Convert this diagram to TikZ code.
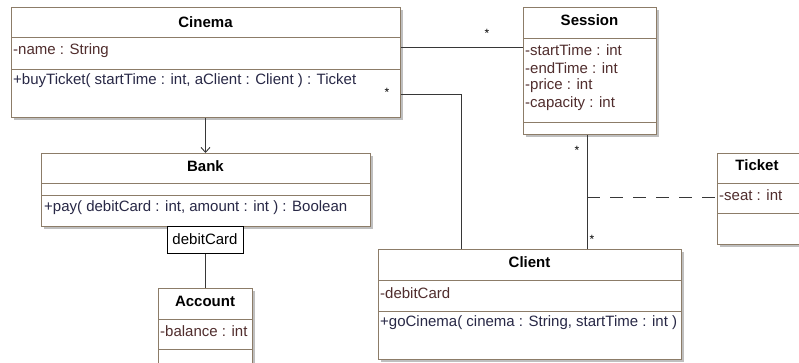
\documentclass[tikz,border=0pt]{standalone}
\usepackage{fontspec}
\setmainfont{Liberation Sans}
\usetikzlibrary{arrows.meta,positioning,calc,shadows}
\definecolor{umlbrd}{RGB}{140,124,104}
\definecolor{umlattr}{RGB}{80,45,45}
\definecolor{umlop}{RGB}{40,40,70}
\definecolor{umlln}{RGB}{55,55,55}
\tikzset{
  cls/.style={draw=umlbrd, fill=white, line width=1pt, anchor=north west, inner sep=0pt,
              drop shadow={shadow xshift=2.5pt, shadow yshift=-2.5pt, fill=black!25, opacity=1}},
  sepln/.style={draw=umlbrd, line width=1pt},
  ctitle/.style={font=\fontsize{15}{17}\selectfont\bfseries, inner sep=0pt},
  cattr/.style={font=\fontsize{15}{17}\selectfont, text=umlattr, anchor=west, inner sep=0pt},
  cop/.style={font=\fontsize{15}{17}\selectfont, text=umlop, anchor=west, inner sep=0pt},
  assoc/.style={umlln, line width=0.9pt},
  depend/.style={umlln, line width=0.9pt, -{Straight Barb[length=5pt,width=9pt]}},
  aclass/.style={umlln, line width=0.9pt, dash pattern=on 13pt off 10pt},
  qbox/.style={draw=black, fill=white, line width=1pt, anchor=north west, inner sep=0pt,
               font=\fontsize{15}{17}\selectfont},
  mult/.style={font=\fontsize{12}{14}\selectfont, inner sep=0pt},
}
\newcommand{\clsep}[2]{\draw[sepln] ([yshift=-#2pt]#1.north west) -- ([yshift=-#2pt]#1.north east);}

\begin{document}
\begin{tikzpicture}[x=1pt, y=-1pt]
  \useasboundingbox (0,0) rectangle (799,362);
  % classes
  \node[cls, minimum width=389pt, minimum height=110pt] (cinema) at (11,7) {};
  \clsep{cinema}{30}\clsep{cinema}{62}
  \node[ctitle] (cinema-t) at (205.5,22) {Cinema};
  \node[cattr] (cinema-a) at (13,51) {-name : String};
  \node[cop] (cinema-o) at (13,81) {+buyTicket( startTime : int, aClient : Client ) : Ticket};

  \node[cls, minimum width=133pt, minimum height=127pt] (session) at (523,7) {};
  \clsep{session}{31}\clsep{session}{115}
  \node[ctitle] (session-t) at (589.5,20) {Session};
  \node[cattr] (session-a1) at (525,50) {-startTime : int};
  \node[cattr] (session-a2) at (525,68) {-endTime : int};
  \node[cattr] (session-a3) at (525,86) {-price : int};
  \node[cattr] (session-a4) at (525,104) {-capacity : int};

  \node[cls, minimum width=329pt, minimum height=73pt] (bank) at (41,153) {};
  \clsep{bank}{30}\clsep{bank}{42}
  \node[ctitle] (bank-t) at (205.5,166) {Bank};
  \node[cop] (bank-o) at (44,208) {+pay( debitCard : int, amount : int ) : Boolean};

  \node[qbox, minimum width=76pt, minimum height=27pt] (qual) at (167,226) {};
  \node[font=\fontsize{15}{17}\selectfont, inner sep=0pt] (qual-t) at (205,239) {debitCard};

  \node[cls, minimum width=94pt, minimum height=90pt] (account) at (158,288) {};
  \clsep{account}{31}\clsep{account}{61}
  \node[ctitle] (account-t) at (205,301) {Account};
  \node[cattr] (account-a) at (160,331) {-balance : int};

  \node[cls, minimum width=88pt, minimum height=91pt] (ticket) at (717,153) {};
  \clsep{ticket}{30}\clsep{ticket}{60}
  \node[ctitle] (ticket-t) at (757,165) {Ticket};
  \node[cattr] (ticket-a) at (719,195) {-seat : int};

  \node[cls, minimum width=303pt, minimum height=110pt] (client) at (378,249) {};
  \clsep{client}{31}\clsep{client}{62}
  \node[ctitle] (client-t) at (529.5,262) {Client};
  \node[cattr] (client-a) at (380,293) {-debitCard};
  \node[cop] (client-o) at (380,323) {+goCinema( cinema : String, startTime : int )};

  % connectors
  \draw[assoc] ([yshift=-40pt]cinema.north east) -- ([yshift=-40pt]session.north west);
  \node[mult] (m1) at (487,33) {*};
  \draw[assoc] ([yshift=-87pt]cinema.north east) -| ([xshift=83pt]client.north west);
  \node[mult] (m2) at (387,92) {*};
  \draw[assoc] ([xshift=64pt]session.south west) -- ([xshift=209pt]client.north west)
    coordinate[pos=0.55] (ac);
  \node[mult] (m3) at (577,150) {*};
  \node[mult] (m4) at (592,239) {*};
  \draw[aclass] (ac) -- (ac -| ticket.west);
  \draw[depend] (cinema.south -| qual.north) -- (bank.north -| qual.north);
  \draw[assoc] (qual.south) -- (account.north -| qual.south);
\end{tikzpicture}
\end{document}
